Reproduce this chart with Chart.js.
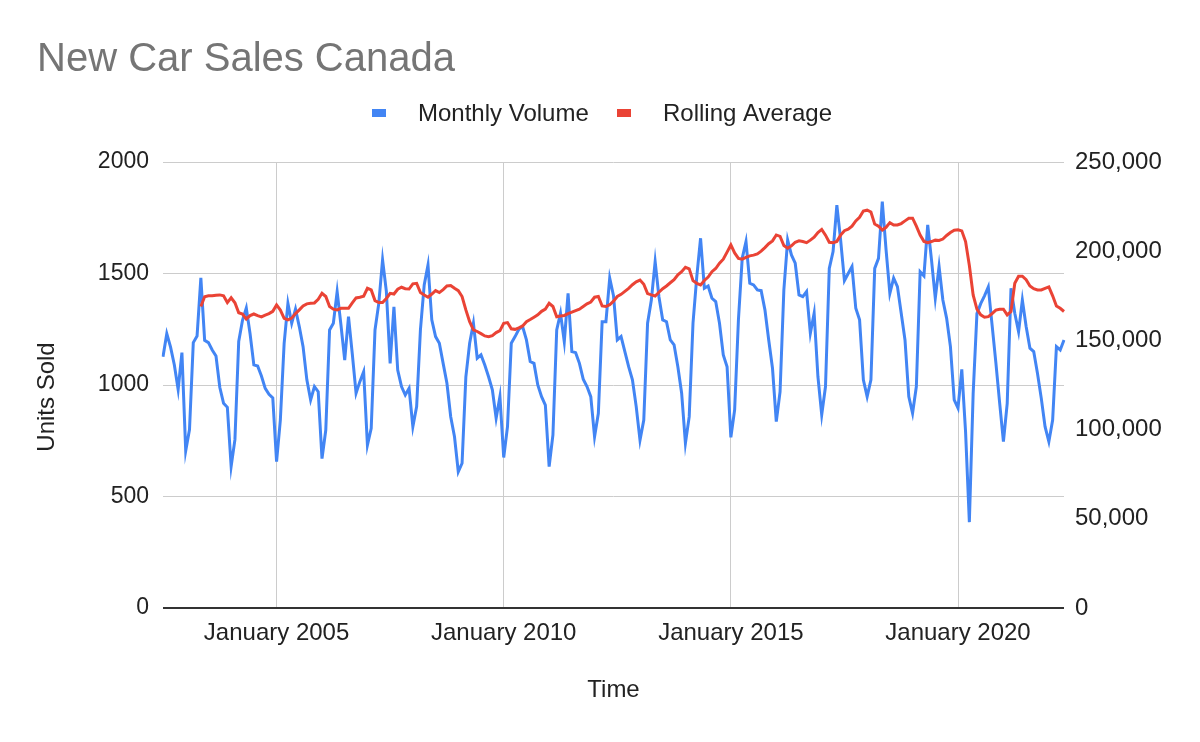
<!DOCTYPE html>
<html>
<head>
<meta charset="utf-8">
<script src="https://cdn.jsdelivr.net/npm/chart.js@4.4.1/dist/chart.umd.min.js"></script>
<style>
  html, body { margin: 0; padding: 0; background: #fff; }
</style>
</head>
<body>
<canvas id="sales-chart" width="1200" height="742"></canvas>
<script>
const FONT = '"Liberation Sans", Arial, sans-serif';

// first month of the series: July 2002
const startYear = 2002;
const startMonth = 6;
const monthNames = ['January', 'February', 'March', 'April', 'May', 'June',
  'July', 'August', 'September', 'October', 'November', 'December'];

// units sold, one value per month (July to June per row)
const monthlyVolume = [
  1127, 1230, 1170, 1090, 980, 1145, 705, 800, 1190, 1220, 1480, 1200,
  1190, 1157, 1130, 990, 918, 900, 635, 755, 1195, 1290, 1345, 1230,
  1090, 1085, 1040, 985, 958, 942, 656, 843, 1187, 1366, 1277, 1340,
  1262, 1172, 1023, 933, 993, 970, 670, 798, 1247, 1277, 1419, 1270,
  1112, 1307, 1140, 963, 1015, 1060, 731, 806, 1247, 1366, 1561, 1420,
  1097, 1351, 1067, 993, 955, 985, 813, 903, 1247, 1449, 1538, 1292,
  1217, 1187, 1097, 1008, 858, 768, 611, 649, 1037, 1187, 1277, 1120,
  1135, 1090, 1037, 978, 851, 948, 675, 813, 1187, 1217, 1250, 1262,
  1202, 1105, 1097, 1000, 948, 910, 634, 776, 1247, 1322, 1194, 1411,
  1150, 1145, 1097, 1026, 993, 948, 768, 873, 1284, 1284, 1479, 1400,
  1202, 1217, 1150, 1082, 1023, 903, 753, 843, 1277, 1381, 1553, 1396,
  1292, 1284, 1202, 1180, 1082, 963, 739, 858, 1277, 1486, 1658, 1434,
  1444, 1389, 1374, 1277, 1135, 1082, 765, 888, 1292, 1568, 1643, 1456,
  1449, 1426, 1423, 1337, 1202, 1075, 836, 970, 1426, 1650, 1583, 1546,
  1404, 1396, 1419, 1232, 1322, 1037, 866, 993, 1523, 1598, 1807, 1650,
  1468, 1500, 1531, 1344, 1292, 1023, 948, 1023, 1523, 1568, 1822, 1606,
  1411, 1479, 1441, 1322, 1202, 948, 873, 993, 1508, 1489, 1718, 1561,
  1389, 1531, 1381, 1299, 1172, 933, 896, 1070, 790, 385, 960, 1320,
  1365, 1400, 1440, 1270, 1100, 920, 746, 918, 1434, 1322, 1239, 1381,
  1262, 1165, 1150, 1052, 940, 813, 746, 843, 1172, 1157, 1202
];

// rolling average (right axis), starts after the first ten months
const rollingAverage = [
  null, null, null, null, null, null, null, null, null, null, 169000, 174500,
  175000, 175000, 175300, 175500, 175000, 171200, 173900, 171100, 165500, 164800, 162000, 163900,
  164800, 163900, 163200, 164200, 165000, 166300, 169900, 167000, 162400, 161500, 162500, 165000,
  167100, 169300, 170500, 170800, 171000, 173000, 176400, 174600, 169000, 167500, 167100, 168000,
  168000, 168000, 171000, 173800, 174200, 174800, 179200, 178300, 172300, 171200, 171200, 173500,
  176400, 176000, 178700, 179800, 179000, 178800, 181700, 182000, 176800, 175500, 174200, 176000,
  177900, 176800, 178500, 180500, 180800, 179200, 177900, 174600, 167100, 160500, 155900, 155000,
  153800, 152500, 152100, 152700, 154400, 155500, 159600, 160000, 156500, 156200, 157000, 158100,
  160500, 161700, 163000, 164300, 166300, 167500, 170800, 169000, 163300, 163700, 164000, 165000,
  165800, 166700, 167500, 169000, 170500, 171500, 174200, 174600, 169300, 169000, 170000, 172000,
  174600, 175800, 177500, 179200, 181200, 182800, 183800, 181500, 176200, 175500, 174900, 177000,
  179000, 180500, 182300, 184000, 186800, 188500, 191000, 190100, 183500, 182000, 181100, 183600,
  185500, 188500, 190300, 193300, 195500, 199500, 203500, 199000, 196000, 195500, 196500, 197400,
  197800, 198500, 200000, 202000, 204200, 205800, 209100, 208300, 203200, 201700, 203000, 205000,
  205800, 205400, 204800, 206200, 207800, 210500, 212200, 209000, 205000, 204800, 205500, 209000,
  211500, 212300, 214000, 217000, 219000, 222500, 223000, 222000, 215200, 214000, 211900, 213400,
  216000, 214700, 214700, 215500, 217000, 218500, 218500, 214000, 209000, 205500, 204800, 205400,
  206200, 206000, 206800, 208800, 210500, 211800, 212000, 211400, 205400, 192000, 175500, 167500,
  164300, 163000, 163300, 165000, 167000, 167500, 167500, 164300, 166200, 182000, 186000, 186000,
  184000, 180500, 179000, 178300, 178300, 179200, 180000, 175000, 169300, 168000, 166200
];

const xTickLabels = ['January 2005', 'January 2010', 'January 2015', 'January 2020'];

const months = monthlyVolume.map((v, i) => {
  const m = startMonth + i;
  return monthNames[m % 12] + ' ' + (startYear + Math.floor(m / 12));
});

// title, legend and the left axis title are drawn by hand so the plot area stays put
const header = {
  id: 'header',
  afterDraw(chart) {
    const ctx = chart.ctx;
    ctx.save();
    ctx.textBaseline = 'alphabetic';
    ctx.fillStyle = '#757575';
    ctx.font = '40px ' + FONT;
    ctx.fillText('New Car Sales Canada', 37, 71);

    ctx.font = '24px ' + FONT;
    ctx.textBaseline = 'middle';
    const items = [
      {text: 'Monthly Volume', color: '#4285f4', box: 372},
      {text: 'Rolling Average', color: '#ea4335', box: 617}
    ];
    items.forEach(it => {
      ctx.fillStyle = it.color;
      ctx.fillRect(it.box, 109, 14, 8);
      ctx.fillStyle = '#222222';
      ctx.fillText(it.text, it.box + 46, 114);
    });

    ctx.translate(47, 397);
    ctx.rotate(-Math.PI / 2);
    ctx.textAlign = 'center';
    ctx.fillText('Units Sold', 0, 0);
    ctx.restore();
  }
};

new Chart(document.getElementById('sales-chart'), {
  type: 'line',
  data: {
    labels: months,
    datasets: [
      {
        label: 'Monthly Volume',
        data: monthlyVolume,
        yAxisID: 'y',
        borderColor: '#4285f4',
        backgroundColor: '#4285f4',
        borderWidth: 3,
        pointRadius: 0,
        tension: 0,
        order: 1
      },
      {
        label: 'Rolling Average',
        data: rollingAverage,
        yAxisID: 'y1',
        borderColor: '#ea4335',
        backgroundColor: '#ea4335',
        borderWidth: 3,
        pointRadius: 0,
        tension: 0,
        order: 0
      }
    ]
  },
  options: {
    responsive: false,
    animation: false,
    layout: { padding: { top: 162, left: 0, right: 0, bottom: 0 } },
    plugins: {
      legend: { display: false },
      title: { display: false },
      tooltip: { enabled: false }
    },
    scales: {
      x: {
        type: 'category',
        offset: false,
        afterBuildTicks: axis => {
          axis.ticks = axis.ticks.filter(t => xTickLabels.includes(months[t.value]));
        },
        afterFit: axis => { axis.height = 134; },
        ticks: {
          autoSkip: false,
          maxRotation: 0,
          minRotation: 0,
          padding: 11,
          color: '#222222',
          font: { family: FONT, size: 24 }
        },
        grid: { color: '#cccccc', lineWidth: 1, drawTicks: false },
        border: { display: false },
        title: {
          display: true,
          text: 'Time',
          color: '#222222',
          font: { family: FONT, size: 24 },
          padding: { top: 0, bottom: 37 }
        }
      },
      y: {
        position: 'left',
        min: 0,
        max: 2000,
        afterFit: axis => { axis.width = 163; },
        ticks: {
          stepSize: 500,
          padding: 14,
          color: '#222222',
          font: { family: FONT, size: 23 },
          callback: v => String(v)
        },
        grid: {
          drawTicks: false,
          color: c => c.tick && c.tick.value === 0 ? '#333333' : '#cccccc',
          lineWidth: c => c.tick && c.tick.value === 0 ? 2 : 1
        },
        border: { display: false }
      },
      y1: {
        position: 'right',
        min: 0,
        max: 250000,
        afterFit: axis => { axis.width = 136; },
        ticks: {
          stepSize: 50000,
          padding: 11,
          color: '#222222',
          font: { family: FONT, size: 24 },
          callback: v => v.toLocaleString('en-US')
        },
        grid: { drawOnChartArea: false, drawTicks: false },
        border: { display: false }
      }
    }
  },
  plugins: [header]
});
</script>
</body>
</html>
